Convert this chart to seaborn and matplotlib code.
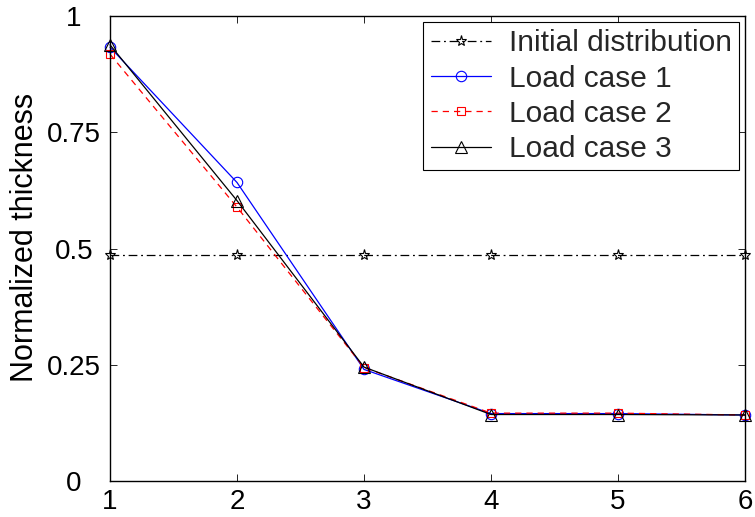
import matplotlib
matplotlib.use("Agg")
import matplotlib.pyplot as plt
import seaborn as sns
import numpy as np

x = [1, 2, 3, 4, 5, 6]
initial = [0.485, 0.485, 0.485, 0.485, 0.485, 0.485]
case1 = [0.933, 0.642, 0.240, 0.145, 0.145, 0.142]
case2 = [0.918, 0.589, 0.244, 0.146, 0.146, 0.142]
case3 = [0.938, 0.603, 0.245, 0.143, 0.143, 0.142]
labels = ["Initial distribution", "Load case 1", "Load case 2", "Load case 3"]
yticks = [0, 0.25, 0.5, 0.75, 1]
yticklabels = ["0", "0.25", "0.5", "0.75", "1"]

sns.set_theme(style="white")
plt.rcParams['font.family'] = ['Liberation Sans', 'DejaVu Sans']

fig = plt.figure(figsize=(7.55, 5.17), dpi=100)
ax = fig.add_axes([0.1457, 0.0696, 0.8411, 0.8994])

styles = [
    dict(color="black", linestyle=(0, (7, 3, 1.5, 3)), marker="*", markersize=8),
    dict(color="blue", linestyle="-", marker="o", markersize=7.5),
    dict(color="red", linestyle=(0, (5, 4)), marker="s", markersize=6),
    dict(color="black", linestyle="-", marker="^", markersize=8.5),
]
for ys, lab, st in zip([initial, case1, case2, case3], labels, styles):
    sns.lineplot(x=x, y=ys, ax=ax, label=lab, color=st["color"], linestyle=st["linestyle"],
                 marker=st["marker"], markersize=st["markersize"], markerfacecolor="none",
                 markeredgecolor=st["color"], markeredgewidth=0.8, linewidth=0.9,
                 clip_on=False)

ax.set_xlim(1, 6)
ax.set_ylim(0, 1)
ax.set_xticks(x)
ax.set_yticks(yticks)
ax.set_yticklabels(yticklabels)
ax.tick_params(direction="in", length=5, labelsize=20, top=True, right=True,
               bottom=True, left=True, colors="black", width=0.6)
ax.xaxis.set_tick_params(pad=6)
ax.yaxis.set_tick_params(pad=26)
for lbl in ax.get_yticklabels():
    lbl.set_horizontalalignment("center")
for sp in ax.spines.values():
    sp.set_color("black")
    sp.set_linewidth(1.0)
ax.set_ylabel("Normalized thickness", fontsize=22, color="black")
ax.yaxis.set_label_coords(-0.111, 0.523)
ax.set_xlabel("")
for lbl in ax.get_xticklabels() + ax.get_yticklabels():
    lbl.set_clip_on(False)

leg = ax.legend(loc="upper right", fontsize=21.5, frameon=True, fancybox=False,
                edgecolor="black", framealpha=1, borderpad=0.25, labelspacing=0.24,
                handlelength=2.0, handletextpad=0.6, borderaxespad=0.2)
leg.get_frame().set_linewidth(0.8)
leg.set_zorder(5)

fig.savefig("out.png", dpi=100)
